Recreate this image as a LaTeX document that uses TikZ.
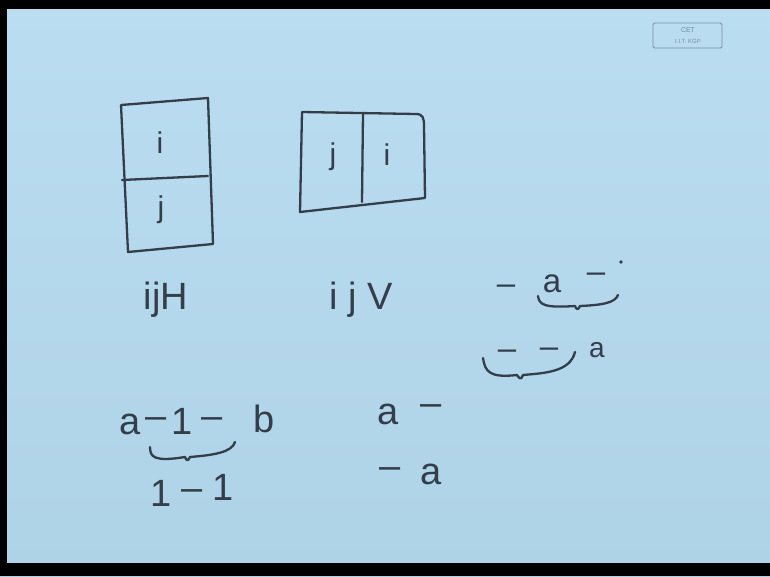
\documentclass[tikz,border=0pt]{standalone}
\usepackage{fontspec}
\setmainfont{Liberation Sans}
\usetikzlibrary{calc}
\definecolor{boardtop}{RGB}{186,221,241}
\definecolor{boardbot}{RGB}{174,210,230}
\definecolor{ink}{RGB}{52,62,74}
\definecolor{logoink}{RGB}{120,140,168}
\tikzset{
  pen/.style={draw=ink,line width=2.3pt,line cap=round,line join=round},
  glyph/.style={text=ink,inner sep=0pt,font=\fontsize{38}{38}\selectfont},
  cellglyph/.style={glyph,font=\fontsize{30}{30}\selectfont},
  rowglyph/.style={glyph,font=\fontsize{33}{33}\selectfont},
  dashglyph/.style={yshift=-7pt}
}

\begin{document}
\begin{tikzpicture}[x=1pt,y=-1pt]
  \useasboundingbox (0,0) rectangle (770,576);
  % board and frame
  \shade[top color=boardtop,bottom color=boardbot] (0,0) rectangle (770,576);
  \fill[black] (0,0) rectangle (770,9);
  \fill[black] (0,563) rectangle (770,576);
  \fill[black] (0,0) rectangle (7,576);

  % logo
  \draw[logoink,line width=0.8pt,rounded corners=1.5pt] (653,23) rectangle (722,48);
  \node[text=logoink,font=\fontsize{7}{7}\selectfont,inner sep=0pt] (logotop) at (688,30) {CET};
  \node[text=logoink,font=\fontsize{6}{6}\selectfont,inner sep=0pt] (logobot) at (688,41) {I.I.T. KGP};

  % box stacked: i over j
  \draw[pen] (121,105) -- (208,98) -- (213,244) -- (128,252) -- cycle;
  \draw[pen] (122,180) -- (208,176);
  \node[cellglyph] (hi) at (160,143) {i};
  \node[cellglyph] (hj) at (161,210) {j};
  \node[glyph] (labH) at (166,300) {ijH};

  % box side by side: j beside i
  \draw[pen] (302,112) -- (416,114) .. controls (423,114) and (424,118) .. (424,126)
    -- (425,198) -- (300,212) -- cycle;
  \draw[pen] (363,113) -- (362,202);
  \node[cellglyph] (vj) at (333,157) {j};
  \node[cellglyph] (vi) at (387,155) {i};
  \node[glyph] (labV) at (361,300) {i j V};

  % -a-
  \node[rowglyph,dashglyph] (r1d1) at (506,283) {–};
  \node[rowglyph] (r1a) at (552,284) {a};
  \node[rowglyph,dashglyph] (r1d2) at (596,271) {–};
  \draw[pen] (538,296) .. controls (539,305) and (545,308) .. (575,306)
    .. controls (576,309) and (578,311) .. (580,306)
    .. controls (602,305) and (615,303) .. (618,295);
  \fill[ink] (621,262) circle (1.8);

  % --a
  \node[rowglyph,dashglyph] (r2d1) at (507,348) {–};
  \node[rowglyph,dashglyph] (r2d2) at (549,346) {–};
  \node[rowglyph,font=\fontsize{28}{28}\selectfont] (r2a) at (597,350) {a};
  \draw[pen] (483,358) .. controls (485,372) and (490,378) .. (517,375)
    .. controls (519,378) and (521,381) .. (523,375)
    .. controls (545,373) and (570,372) .. (575,352);

  % a-1- b
  \node[glyph] (ba) at (130,424) {a};
  \node[glyph,dashglyph] (bd1) at (156,416) {–};
  \node[glyph] (b1) at (182,421) {1};
  \node[glyph,dashglyph] (bd2) at (212,416) {–};
  \node[glyph] (bb) at (264,419) {b};
  \draw[pen] (150,447) .. controls (150,457) and (154,462) .. (185,457)
    .. controls (186,460) and (188,462) .. (190,457)
    .. controls (215,455) and (232,452) .. (235,442);
  \node[glyph] (c1) at (161,493) {1};
  \node[glyph,dashglyph] (cd) at (192,488) {–};
  \node[glyph] (c2) at (223,487) {1};

  % a- and -a
  \node[glyph] (da) at (388,414) {a};
  \node[glyph,dashglyph] (dd) at (431,403) {–};
  \node[glyph,dashglyph] (ed) at (390,466) {–};
  \node[glyph] (ea) at (431,474) {a};
\end{tikzpicture}
\end{document}
